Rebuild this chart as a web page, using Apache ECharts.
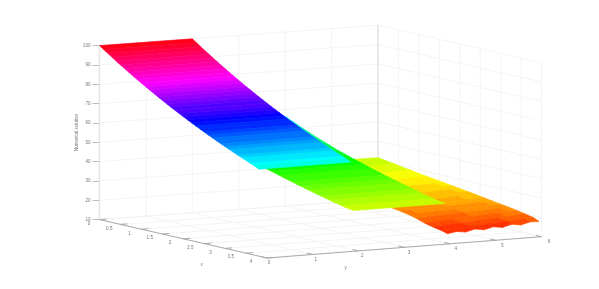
<!DOCTYPE html>
<html><head><meta charset="utf-8">
<style>html,body{margin:0;padding:0;background:#fff}#c{width:599px;height:289px}</style>
<script src="https://cdn.jsdelivr.net/npm/echarts@6/dist/echarts.min.js"></script>
</head><body><div id="c"></div>
<script>
// ---- data ----
const xTicks = [0,0.5,1,1.5,2,2.5,3,3.5,4];
const yTicks = [0,1,2,3,4,5,6];
const zTicks = [10,20,30,40,50,60,70,80,90,100];
const xTickLabels = ['0','0.5','1','1.5','2','2.5','3','3.5','4'];
const yTickLabels = ['0','1','2','3','4','5','6'];
const fineX = [0,0.1,0.2,0.3,0.4,0.5,0.6,0.7,0.8,0.9,1,1.1,1.2,1.3,1.4,1.5,1.6,1.7,1.8,1.9,2,2.1,2.2,2.3,2.4,2.5,2.6,2.7,2.8,2.9,3,3.1,3.2,3.3,3.4,3.5,3.6,3.7];
const sheet1End = 3.81, sheet2End = 3.88, sheet3End = 3.94;
const sheet1Y = [0,2];
const sheet2Y = [2,4];
const sheet1Z = [100,98.45,96.93,95.43,93.95,92.5,91.07,89.66,88.27,86.9,85.56,84.24,82.93,81.65,80.39,79.14,77.92,76.71,75.52,74.36,73.21,72.07,70.96,69.86,68.78,67.71,66.67,65.63,64.62,63.62,62.63,61.66,60.71,59.77,58.84,57.93,57.03,56.15,55];
const sheet2Z = [56.4,55.4,54.5,53.5,52.5,51.6,50.7,49.8,48.9,48.1,47.3,46.5,45.7,44.91,44.21,43.53,42.86,42.19,41.54,40.9,40.27,39.64,39.03,38.42,37.83,37.24,36.67,36.1,35.54,34.99,34.45,33.91,33.39,32.87,32.36,31.86,31.37,30.88,30.25];
const sheet3X = [0,0.2,0.4,0.6,0.8,1,1.2,1.4,1.6,1.8,2,2.2,2.4,2.6,2.8,3,3.2,3.4,3.6,3.8];
const sheet3Y = [4,4.2,4.4,4.6,4.8,5,5.2,5.4,5.6,5.8,6];
const sheet3Z = [
[31.5,31.5,31.5,31.5,31.5,31.5,31.5,31.5,31.5,31.5,31.5],
[30.6,30.7,30.7,30.7,30.8,30.8,30.8,30.8,30.9,30.9,30.9],
[29.7,29.8,29.8,29.9,29.9,30.0,30.0,30.0,30.1,30.2,30.2],
[28.8,28.9,29.0,29.0,29.1,29.1,29.2,29.3,29.4,29.4,29.5],
[28.0,28.1,28.2,28.3,28.4,28.4,28.5,28.6,28.7,28.8,28.9],
[27.2,27.3,27.4,27.5,27.6,27.7,27.8,27.9,28.0,28.1,28.2],
[26.4,26.5,26.7,26.8,26.9,27.0,27.1,27.3,27.4,27.5,27.6],
[25.7,25.8,26.0,26.1,26.2,26.4,26.5,26.6,26.7,26.9,27.0],
[25.0,25.2,25.3,25.4,25.6,25.7,25.8,26.0,26.1,26.3,26.4],
[24.3,24.5,24.6,24.8,24.9,25.1,25.2,25.4,25.5,25.7,25.8],
[23.6,23.8,23.9,24.1,24.2,24.4,24.6,24.7,24.9,25.0,25.2],
[23.0,23.2,23.3,23.5,23.6,23.8,23.9,24.1,24.3,24.4,24.6],
[22.4,22.6,22.7,22.9,23.0,23.2,23.3,23.5,23.7,23.8,24.0],
[21.7,21.9,22.0,22.2,22.3,22.5,22.6,22.8,23.0,23.1,23.3],
[21.0,21.2,21.3,21.5,21.6,21.8,21.9,22.1,22.3,22.4,22.6],
[20.2,20.4,20.6,20.8,20.9,21.1,21.2,21.4,21.6,21.8,22.0],
[19.0,19.4,19.6,19.9,20.0,20.3,20.5,20.7,20.9,21.2,21.4],
[17.6,18.1,18.4,18.7,18.9,19.2,19.5,19.8,20.0,20.4,20.7],
[16.6,17.1,17.3,17.7,17.9,18.3,18.6,18.9,19.1,19.5,19.8],
[15.8,16.3,16.2,17.0,16.8,17.6,17.5,18.2,18.0,18.8,19.0],
[14.9,15.7,15.1,16.3,15.5,16.7,16.0,17.2,16.5,17.7,17.6]
];
const zLabel = 'Numerical solution';

// ---- layout of the 3D box (pixels on the page) ----
const A=[99.5,219.6], B=[267,258], C=[541.5,236.7], D=[378,199.2];
const Z_MIN=10, Z_MAX=100, Z_PX=174;
const CLIM_LO=13.5, CLIM_HI=100, LEVELS=64;
const FONT='"Liberation Sans",Arial,sans-serif';
const TXT='#777', AXIS='#a2a2a2', GRID='#f1f1f1';

function project(x,y,z){
  const u=x/4,v=y/6,a=(1-u)*(1-v),b=u*(1-v),c=u*v,d=(1-u)*v;
  return [a*A[0]+b*B[0]+c*C[0]+d*D[0],
          a*A[1]+b*B[1]+c*C[1]+d*D[1]-(z-Z_MIN)*Z_PX/(Z_MAX-Z_MIN)];
}
function colorOf(z){
  let t=(CLIM_HI-z)/(CLIM_HI-CLIM_LO);
  let i=Math.max(0,Math.min(LEVELS-1,Math.floor(t*LEVELS)));
  return 'hsl('+((360-i/LEVELS*360)%360)+',100%,50%)';
}

// ---- surface tables, back to front ----
const rows1=fineX.concat([sheet1End]), rows2=fineX.concat([sheet2End]), rows3=sheet3X.concat([sheet3End]);
const sheets=[
  {xs:rows3,ys:sheet3Y,z:(i,j)=>sheet3Z[i][j]},
  {xs:rows2,ys:sheet2Y,z:(i,j)=>sheet2Z[i]},
  {xs:rows1,ys:sheet1Y,z:(i,j)=>sheet1Z[i]}
];
const facets=[];
sheets.forEach((s,k)=>{
  for(let j=s.ys.length-2;j>=0;j--)
    for(let i=0;i<s.xs.length-1;i++) facets.push([k,i,j]);
});
function renderFacet(p,api){
  const s=sheets[api.value(0)],i=api.value(1),j=api.value(2);
  const corners=[[i,j],[i+1,j],[i+1,j+1],[i,j+1]];
  const pts=corners.map(c=>api.coord(project(s.xs[c[0]],s.ys[c[1]],s.z(c[0],c[1]))));
  const col=colorOf(Math.min(s.z(i+1,j),s.z(i+1,j+1)));
  return {type:'polygon',shape:{points:pts},style:{fill:col,stroke:col,lineWidth:0.6}};
}

// ---- box lines: [x1,y1,z1,x2,y2,z2,kind] ----
const lines=[];
zTicks.forEach(z=>{lines.push([0,0,z,0,6,z,0]);lines.push([0,6,z,4,6,z,0]);});
yTicks.forEach(y=>{lines.push([0,y,10,0,y,100,y===6?1:0]);lines.push([0,y,10,4,y,10,0]);});
xTicks.forEach(x=>{lines.push([x,6,10,x,6,100,x===0?1:0]);lines.push([x,0,10,x,6,10,0]);});
lines.push([0,0,10,4,0,10,2]);
lines.push([4,0,10,4,6,10,2]);
xTicks.forEach(x=>lines.push([x,0,10,x,0.15,10,2]));
yTicks.forEach(y=>lines.push([4,y,10,3.86,y,10,2]));
const LINE_STYLE=[{stroke:GRID,lineWidth:0.8},{stroke:'#e2e2e2',lineWidth:1},{stroke:AXIS,lineWidth:0.9}];
function renderLine(p,api){
  const a=api.coord(project(api.value(0),api.value(1),api.value(2)));
  const b=api.coord(project(api.value(3),api.value(4),api.value(5)));
  return {type:'line',shape:{x1:a[0],y1:a[1],x2:b[0],y2:b[1]},style:LINE_STYLE[api.value(6)]};
}

// ---- floor axis labels ----
const textItems=[];
xTicks.forEach((x,i)=>{const q=project(x,0,10);textItems.push([q[0]-10.5-1.37*x,q[1]+4.5-0.2*x,xTickLabels[i]]);});
yTicks.forEach((y,i)=>{const q=project(4,y,10);textItems.push([q[0]+2+0.92*y,q[1]+5,yTickLabels[i]]);});
textItems.push([201.7,264.5,'x']);
textItems.push([345.7,268,'y']);
function renderText(p,api){
  const c=api.coord([api.value(0),api.value(1)]);
  return {type:'text',x:c[0],y:c[1],style:{text:textItems[p.dataIndex][2],font:'4.6px '+FONT,fill:TXT,textAlign:'center',textVerticalAlign:'middle'}};
}

const chart=echarts.init(document.getElementById('c'),null,{renderer:'canvas'});
chart.setOption({
  animation:false,
  backgroundColor:'#fff',
  grid:[
    {left:0,top:0,width:599,height:289},
    {left:99.5,top:45.6,width:1,height:Z_PX}
  ],
  xAxis:[
    {gridIndex:0,type:'value',min:0,max:599,show:false},
    {gridIndex:1,type:'value',min:0,max:1,show:false}
  ],
  yAxis:[
    {gridIndex:0,type:'value',min:0,max:289,inverse:true,show:false},
    {gridIndex:1,type:'value',min:10,max:100,interval:10,position:'left',
     axisLine:{show:true,lineStyle:{color:'#bcbcbc',width:1.2}},
     axisTick:{show:true,length:7,lineStyle:{color:AXIS,width:0.7}},
     axisLabel:{show:true,fontSize:4.6,color:TXT,fontFamily:FONT,margin:9,showMinLabel:true,showMaxLabel:true},
     splitLine:{show:false},
     name:zLabel,nameLocation:'middle',nameRotate:90,nameGap:17,
     nameTextStyle:{fontSize:4.5,color:TXT,fontFamily:FONT}}
  ],
  series:[
    {type:'custom',name:'box',xAxisIndex:0,yAxisIndex:0,clip:false,silent:true,renderItem:renderLine,data:lines,z:1},
    {type:'custom',name:'surface',xAxisIndex:0,yAxisIndex:0,clip:false,silent:true,renderItem:renderFacet,data:facets,z:2},
    {type:'custom',name:'labels',xAxisIndex:0,yAxisIndex:0,clip:false,silent:true,renderItem:renderText,data:textItems.map(t=>[t[0],t[1]]),z:3}
  ]
});
</script></body></html>
